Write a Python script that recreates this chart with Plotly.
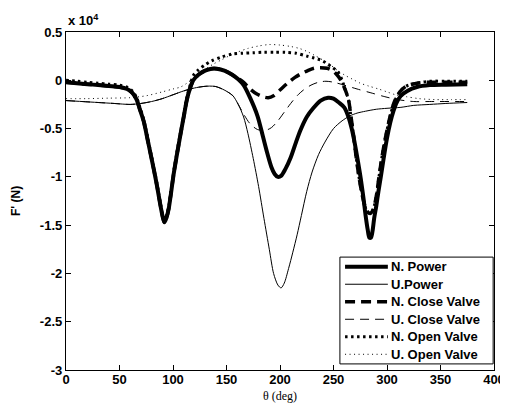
import plotly.graph_objects as go

# values in units of 1e4 N
np_x = [0,10,20,30,40,50,57,62,66,69,72.5,76,79,82,85,88,90.5,92,94,96,98,100.5,103.5,107,110,113,116,119,124,130,136,141,148,155,161,166,172,179,184,188,192,195,198,201,205,210,215,219,225,231,238,245,250,255,260,264,267,270,273,275.5,278,280,282,283.5,285,286.5,288,290,292,294.5,297,300,303,306,309,313,319,328,340,355,375]
np_y = [-0.02,-0.03,-0.04,-0.05,-0.06,-0.07,-0.09,-0.13,-0.2,-0.3,-0.42,-0.6,-0.76,-0.92,-1.09,-1.28,-1.42,-1.47,-1.42,-1.33,-1.18,-0.98,-0.78,-0.56,-0.38,-0.2,-0.08,0.0,0.06,0.1,0.12,0.12,0.1,0.06,0.01,-0.05,-0.18,-0.37,-0.58,-0.75,-0.9,-0.97,-1.0,-0.99,-0.92,-0.8,-0.64,-0.52,-0.38,-0.29,-0.21,-0.18,-0.19,-0.23,-0.28,-0.38,-0.5,-0.66,-0.85,-1.02,-1.22,-1.4,-1.55,-1.63,-1.63,-1.56,-1.43,-1.3,-1.15,-0.98,-0.8,-0.6,-0.44,-0.32,-0.23,-0.16,-0.11,-0.07,-0.05,-0.045,-0.04]

up_x = [0,15,30,45,60,70,80,90,100,110,120,128,134,140,146,151,156,161,166,170,175,180,185,190,194,198,201,204,208,212,216,220,225,230,236,242,250,258,265,272,280,290,300,313,325,340,355,375]
up_y = [-0.21,-0.22,-0.23,-0.24,-0.25,-0.24,-0.22,-0.19,-0.15,-0.11,-0.08,-0.065,-0.06,-0.065,-0.09,-0.12,-0.16,-0.25,-0.38,-0.55,-0.81,-1.1,-1.43,-1.75,-2.0,-2.12,-2.15,-2.1,-1.95,-1.78,-1.6,-1.4,-1.15,-0.95,-0.77,-0.64,-0.5,-0.42,-0.37,-0.34,-0.32,-0.3,-0.29,-0.28,-0.26,-0.25,-0.24,-0.23]

nc_x = [0,10,20,30,40,50,57,62,66,69,72.5,76,79,82,85,88,90.5,92,94,96,98,100.5,103.5,107,110,113,116,119,124,130,136,141,148,155,161,166,172,178,184,189,194,200,207,214,220,226,232,238,244,249,253,257,261,264,266,268.5,271,273.5,276,278.5,281,284,287,290,292.5,295.5,299,303,307,312,318,328,340,355,375]
nc_y = [-0.02,-0.03,-0.04,-0.05,-0.06,-0.07,-0.09,-0.13,-0.2,-0.3,-0.42,-0.6,-0.76,-0.92,-1.09,-1.28,-1.42,-1.47,-1.42,-1.33,-1.18,-0.98,-0.78,-0.56,-0.38,-0.2,-0.08,0.0,0.06,0.1,0.12,0.12,0.1,0.06,0.02,-0.02,-0.09,-0.14,-0.17,-0.18,-0.16,-0.1,-0.03,0.03,0.07,0.1,0.125,0.13,0.125,0.1,0.06,0.0,-0.1,-0.2,-0.35,-0.55,-0.78,-0.98,-1.14,-1.27,-1.35,-1.38,-1.34,-1.2,-1.0,-0.78,-0.57,-0.37,-0.22,-0.12,-0.06,-0.03,-0.02,-0.02,-0.02]

uc_x = [0,15,30,45,60,70,80,90,100,110,120,128,134,140,146,151,156,162,166,172,179,186,192,198,204,210,216,222,229,236,243,250,260,272,285,298,310,325,340,375]
uc_y = [-0.21,-0.22,-0.23,-0.24,-0.25,-0.24,-0.22,-0.19,-0.15,-0.11,-0.08,-0.065,-0.06,-0.065,-0.09,-0.12,-0.16,-0.27,-0.35,-0.45,-0.51,-0.52,-0.49,-0.42,-0.33,-0.24,-0.16,-0.1,-0.05,-0.02,-0.01,-0.02,-0.05,-0.09,-0.13,-0.17,-0.2,-0.22,-0.22,-0.22]

no_x = [0,10,20,30,40,50,57,62,66,69,72.5,76,79,82,85,88,90.5,92,94,96,98,100.5,103.5,107,110,113,116,119,124,130,136,145,155,165,175,185,195,205,215,225,232,238,243,248,253,257,261,264,266,268.5,271,273.5,276,278.5,281,284,287,290,292.5,295.5,299,303,307,312,318,328,340,355,375]
no_y = [0.0,-0.01,-0.02,-0.03,-0.04,-0.05,-0.07,-0.11,-0.18,-0.28,-0.4,-0.58,-0.74,-0.9,-1.07,-1.26,-1.4,-1.44,-1.4,-1.31,-1.16,-0.96,-0.76,-0.54,-0.36,-0.18,-0.05,0.05,0.11,0.16,0.2,0.24,0.27,0.28,0.285,0.29,0.29,0.29,0.28,0.25,0.23,0.21,0.18,0.14,0.1,0.03,-0.1,-0.2,-0.35,-0.55,-0.78,-0.98,-1.14,-1.27,-1.35,-1.38,-1.34,-1.2,-1.0,-0.78,-0.57,-0.37,-0.22,-0.12,-0.06,-0.03,-0.01,-0.01,-0.01]

uo_x = [0,20,40,60,75,90,100,107,113,119,125,131,138,145,152,160,170,180,190,200,210,218,225,232,240,247,254,261,268,275,283,292,300,308,318,330,345,360,375]
uo_y = [-0.19,-0.19,-0.185,-0.18,-0.16,-0.12,-0.09,-0.07,-0.03,0.02,0.07,0.12,0.17,0.21,0.25,0.29,0.33,0.355,0.37,0.365,0.35,0.33,0.3,0.26,0.21,0.16,0.1,0.05,0.01,-0.03,-0.06,-0.09,-0.12,-0.15,-0.17,-0.19,-0.2,-0.2,-0.2]

x_ticks = [0, 50, 100, 150, 200, 250, 300, 350, 400]
y_ticks = [0.5, 0, -0.5, -1, -1.5, -2, -2.5, -3]
y_tick_text = ["0.5", "0", "-0.5", "-1", "-1.5", "-2", "-2.5", "-3"]

names = ["N. Power", "U.Power", "N. Close Valve", "U. Close Valve", "N. Open Valve", "U. Open Valve"]

series = [
    (np_x, np_y, 4, "solid"),
    (up_x, up_y, 1, "solid"),
    (nc_x, nc_y, 3.5, "10px,6px"),
    (uc_x, uc_y, 1, "9px,6px"),
    (no_x, no_y, 3, "2.5px,3.5px"),
    (uo_x, uo_y, 1, "1px,3.5px"),
]

SANS = "Liberation Sans, Arial, sans-serif"

fig = go.Figure()
for name, (xs, ys, w, d) in zip(names, series):
    fig.add_trace(go.Scatter(x=xs, y=ys, mode="lines", name=name, showlegend=False,
                             line=dict(color="black", width=w, dash=d, shape="spline", smoothing=0.8)))

fig.update_layout(
    width=500, height=400,
    margin=dict(l=58, r=14, t=24, b=38, autoexpand=False),
    paper_bgcolor="white", plot_bgcolor="white",
    showlegend=False,
    font=dict(family=SANS, size=13, color="black"),
)
axis_common = dict(showline=True, linecolor="black", linewidth=1.3, mirror="ticks",
                   ticks="inside", ticklen=5, tickwidth=1, tickcolor="black",
                   showgrid=False, zeroline=False, automargin=False,
                   tickfont=dict(family=SANS, size=13, color="black", weight="bold"))
fig.update_xaxes(range=[0, 400], tickvals=x_ticks, ticklabelstandoff=-3, **axis_common)
fig.update_yaxes(range=[-3, 0.5], tickvals=y_ticks, ticktext=y_tick_text, **axis_common)

# legend box drawn in plot-area (paper) coordinates
lx0, lx1, ly0, ly1 = 0.640, 0.998, 0.018, 0.334
fig.add_shape(type="rect", xref="paper", yref="paper", x0=lx0, x1=lx1, y0=ly0, y1=ly1,
              line=dict(color="black", width=1), fillcolor="white", layer="above")
row_h = (ly1 - ly0) / 6.1
for i, (name, (xs, ys, w, d)) in enumerate(zip(names, series)):
    yy = ly1 - row_h * (0.55 + i)
    fig.add_shape(type="line", xref="paper", yref="paper", x0=0.652, x1=0.752, y0=yy, y1=yy,
                  line=dict(color="black", width=w, dash=d), layer="above")
    fig.add_annotation(text=name, xref="paper", yref="paper", x=0.755, y=yy,
                       xanchor="left", yanchor="middle", showarrow=False,
                       font=dict(family=SANS, size=13, color="black", weight="bold"))

fig.add_annotation(text="x 10<sup>4</sup>", xref="paper", yref="paper", x=0, y=1.0,
                   xanchor="left", yanchor="bottom", showarrow=False, yshift=2,
                   font=dict(family=SANS, size=13, color="black", weight="bold"))
fig.add_annotation(text="θ (deg)", xref="paper", yref="paper", x=0.5, y=0, yshift=-26,
                   xanchor="center", yanchor="middle", showarrow=False,
                   font=dict(family="Liberation Serif, Times New Roman, serif", size=12, color="black"))
fig.add_annotation(text="F' (N)", xref="paper", yref="paper", x=0, xshift=-50, y=0.5,
                   xanchor="center", yanchor="middle", showarrow=False, textangle=-90,
                   font=dict(family=SANS, size=12, color="black", weight="bold"))

fig.write_html("out.html")
